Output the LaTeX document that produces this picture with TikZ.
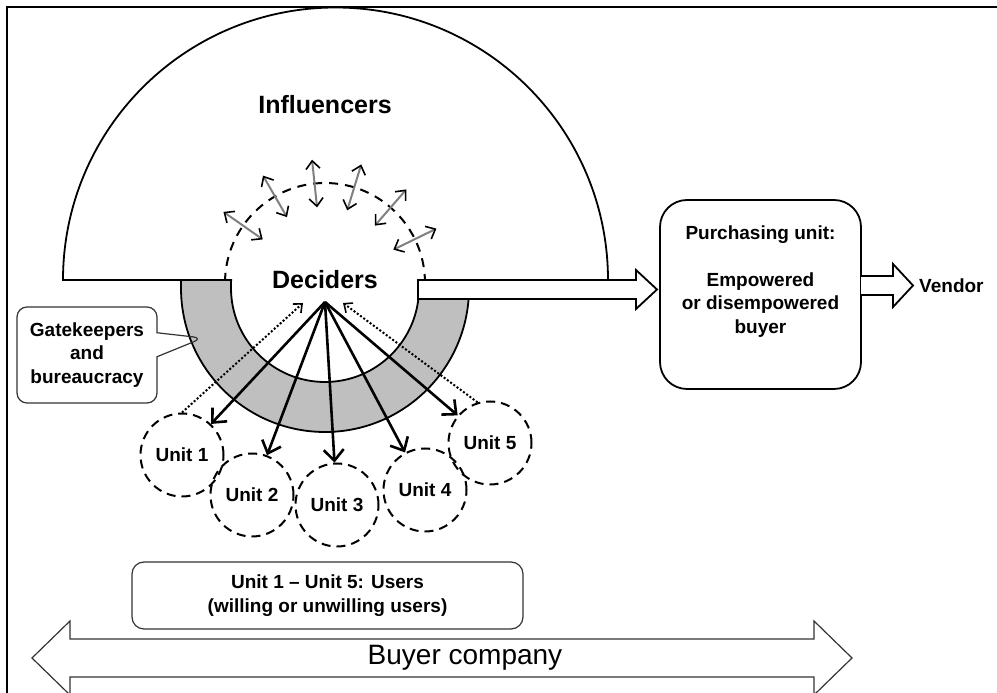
\documentclass[tikz,border=0pt]{standalone}
\usepackage{fontspec}
\setmainfont{Liberation Sans}
\usetikzlibrary{arrows.meta,shapes.callouts}

\begin{document}
\begin{tikzpicture}[x=1pt,y=1pt,
    unit/.style={circle,draw,line width=2pt,dash pattern=on 9pt off 6pt,minimum size=83pt,inner sep=0pt,font=\fontsize{19}{23}\selectfont\bfseries},
    rbox/.style={draw=black!80,line width=1.2pt,rounded corners=12pt,align=center,font=\fontsize{19}{24}\selectfont\bfseries},
    decide/.style={line width=2.6pt,-{Straight Barb[length=11pt,width=20pt,line width=2.6pt]}},
    report/.style={line width=2pt,dash pattern=on 2pt off 2pt,-{Straight Barb[length=7pt,width=12pt,line width=1.6pt]}},
    sway/.style={draw=gray,line width=2pt,{Straight Barb[color=black,length=8pt,width=14pt,line width=1.6pt]}-{Straight Barb[color=black,length=8pt,width=14pt,line width=1.6pt]}}]
  \useasboundingbox (0,0) rectangle (997,693);

  % frame
  \draw[line width=2pt] (997,686) -- (7,686) -- (7,0);

  % influencers
  \draw[line width=1.8pt] (232,413) -- (63,413) arc[start angle=180,end angle=0,radius=272.5];
  \node[font=\fontsize{25}{30}\selectfont\bfseries] (infl) at (325,588) {Influencers};

  % deciders
  \coordinate (dc) at (325,410);
  \draw[line width=2pt,dash pattern=on 9pt off 7pt] (425,410) arc[start angle=0,end angle=180,radius=100];
  \foreach \a in {145,120,96,73,49,26}
    \draw[sway] ([shift={(\a:76)}]dc) -- ([shift={(\a:124)}]dc);

  % gatekeeper ring
  \filldraw[fill=gray!50,line width=1.8pt] (181,413) -- (181,405) arc[start angle=180,end angle=360,radius=144]
    -- (469,413) -- (419,413) -- (419,405) arc[start angle=0,end angle=-180,radius=94] -- (231,413) -- cycle;

  % purchasing unit
  \node[draw,line width=1.8pt,rounded corners=27pt,minimum width=201pt,minimum height=189pt] (pu) at (760.5,398.5) {};
  \node[align=center,font=\fontsize{19}{23.5}\selectfont\bfseries] (putxt) at (760.5,411.5)
    {Purchasing unit:\\[23.5pt]Empowered\\or disempowered\\buyer};
  \filldraw[fill=white,line width=1.8pt] (418,394) -- (636,394) -- (636,384) -- (657,403.5)
    -- (636,423) -- (636,413) -- (418,413) -- cycle;
  \filldraw[fill=white,line width=1.8pt] (861,398) -- (893,398) -- (893,386) -- (913,407.5)
    -- (893,429) -- (893,417) -- (861,417);
  \node[font=\fontsize{19}{23}\selectfont\bfseries,anchor=west,inner sep=0pt] (vend) at (919,407) {Vendor};

  \node[font=\fontsize{25}{30}\selectfont\bfseries] (dec) at (325,413) {Deciders};
  \coordinate (apex) at (325,391);
  \coordinate (inL) at (303,390);
  \coordinate (inR) at (343,390);

  % users
  \node[unit] (u1) at (182,238) {Unit 1};
  \node[unit] (u2) at (252,198) {Unit 2};
  \node[unit] (u3) at (337,188) {Unit 3};
  \node[unit] (u4) at (425,203) {Unit 4};
  \node[unit] (u5) at (490,250) {Unit 5};
  \foreach \u in {u1,u2,u3,u4,u5}
    \draw[decide] (apex) -- (\u);
  \draw[report] (u1.north) -- (inL);
  \draw[report] (u5.107) -- (inR);

  \node[rectangle callout,draw=black!80,line width=1.2pt,rounded corners=10pt,minimum width=140pt,minimum height=96pt,
    align=center,font=\fontsize{19}{23.5}\selectfont\bfseries,
    callout absolute pointer={(203,355)},callout pointer width=24pt] (gate) at (87,338) {Gatekeepers\\and\\bureaucracy};

  \node[rbox,minimum width=391pt,minimum height=67pt] (users) at (327.5,97.5) {Unit 1 – Unit 5: Users\\(willing or unwilling users)};

  % buyer company
  \draw[draw=black!80,line width=1.2pt] (70,54) -- (814,54) -- (814,72) -- (852,35) -- (814,-2) -- (814,16)
    -- (70,16) -- (70,-2) -- (32,35) -- (70,72) -- cycle;
  \node[font=\fontsize{28}{32}\selectfont] (buyer) at (465,35) {Buyer company};
\end{tikzpicture}
\end{document}
